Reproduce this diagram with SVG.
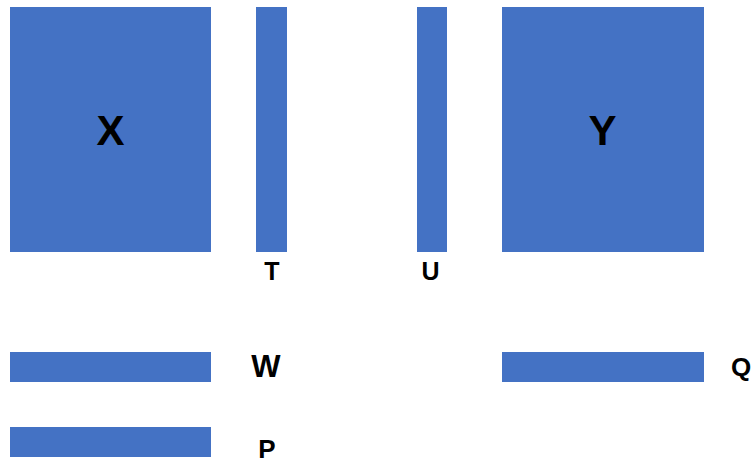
<svg xmlns="http://www.w3.org/2000/svg" width="755" height="463" viewBox="0 0 755 463">
<style>
.b{fill:#4472C4}
.t{font-family:"Liberation Sans",Arial,sans-serif;font-weight:bold;fill:#000;text-anchor:middle}
</style>
<rect width="755" height="463" fill="#fff"/>
<g id="X"><rect class="b" x="10" y="7" width="201" height="245"/><text class="t" x="110.5" y="145" font-size="42">X</text></g>
<g id="T"><rect class="b" x="256" y="7" width="31" height="245"/><text class="t" x="272" y="280" font-size="25">T</text></g>
<g id="U"><rect class="b" x="417" y="7" width="30" height="245"/><text class="t" x="430.5" y="280" font-size="25">U</text></g>
<g id="Y"><rect class="b" x="502" y="7" width="202" height="245"/><text class="t" x="602.5" y="145" font-size="42">Y</text></g>
<g id="W"><rect class="b" x="10" y="352" width="201" height="30"/><text class="t" x="266" y="377" font-size="31">W</text></g>
<g id="P"><rect class="b" x="10" y="427" width="201" height="30"/><text class="t" x="267" y="458" font-size="26">P</text></g>
<g id="Q"><rect class="b" x="502" y="352" width="202" height="30"/><text class="t" x="741" y="376" font-size="26">Q</text></g>
<g id="connectors"/>
</svg>
